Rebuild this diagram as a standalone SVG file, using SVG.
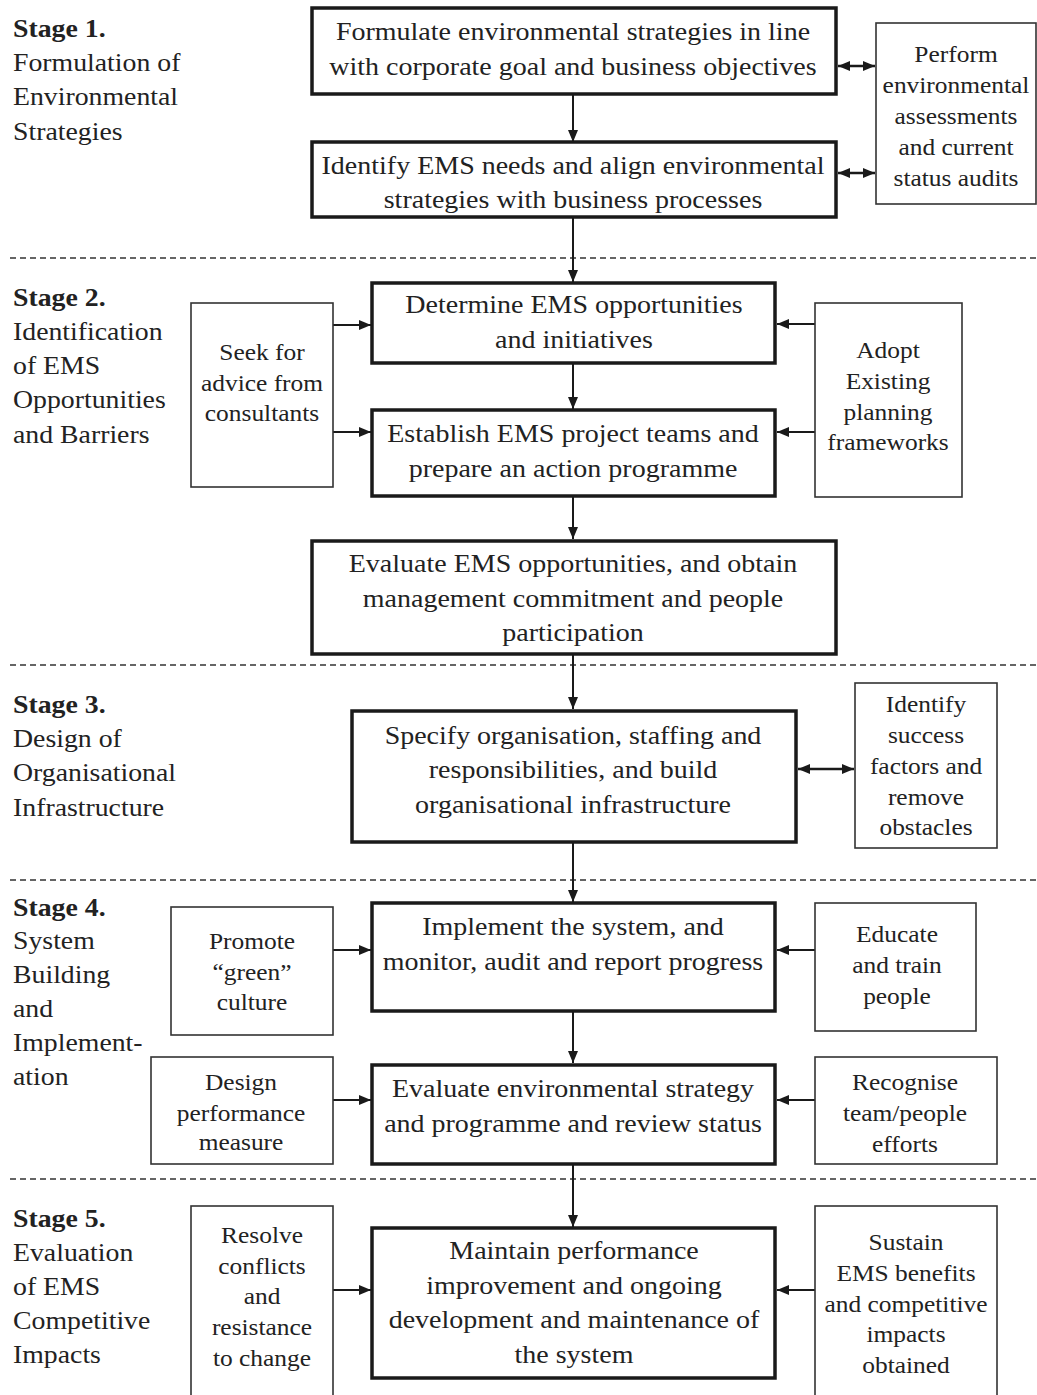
<svg xmlns="http://www.w3.org/2000/svg" width="1037" height="1395" viewBox="0 0 1037 1395">
  <style>
    text { font-family: "Liberation Serif", "Times New Roman", serif; fill: #222; }
    .m { font-size: 25px; text-anchor: middle; }
    .sd { font-size: 22.7px; text-anchor: middle; }
    .st { font-size: 24.8px; }
    .st .b { font-weight: bold; }
    .main { fill: #fff; stroke: #1a1a1a; stroke-width: 3.5; }
    .side { fill: #fff; stroke: #333; stroke-width: 1.6; }
    .sep { stroke: #333; stroke-width: 1.4; stroke-dasharray: 6 4; fill: none; }
    .arr { stroke: #1a1a1a; stroke-width: 2; fill: none; marker-end: url(#ah); }
    .dbl { stroke: #1a1a1a; stroke-width: 2.4; fill: none; marker-start: url(#ah); marker-end: url(#ah); }
  </style>
  <defs>
    <marker id="ah" viewBox="0 0 12 10" refX="12" refY="5" markerWidth="12" markerHeight="10" markerUnits="userSpaceOnUse" orient="auto-start-reverse">
      <path d="M0,0 L12,5 L0,10 z" fill="#1a1a1a"/>
    </marker>
  </defs>
  <rect width="1037" height="1395" fill="#fff"/>

  <!-- stage separators -->
  <g id="separators">
    <line class="sep" x1="10" y1="258" x2="1037" y2="258"/>
    <line class="sep" x1="10" y1="665" x2="1037" y2="665"/>
    <line class="sep" x1="10" y1="880" x2="1037" y2="880"/>
    <line class="sep" x1="10" y1="1179" x2="1037" y2="1179"/>
  </g>

  <!-- stage captions -->
  <g id="stage1"><text class="st" transform="matrix(1.12 0 0 1 13 0)"><tspan class="b" x="0" y="37">Stage 1.</tspan><tspan x="0" y="71">Formulation of</tspan><tspan x="0" y="105">Environmental</tspan><tspan x="0" y="140">Strategies</tspan></text></g>
  <g id="stage2"><text class="st" transform="matrix(1.12 0 0 1 13 0)"><tspan class="b" x="0" y="306">Stage 2.</tspan><tspan x="0" y="340">Identification</tspan><tspan x="0" y="374">of EMS</tspan><tspan x="0" y="408">Opportunities</tspan><tspan x="0" y="443">and Barriers</tspan></text></g>
  <g id="stage3"><text class="st" transform="matrix(1.12 0 0 1 13 0)"><tspan class="b" x="0" y="713">Stage 3.</tspan><tspan x="0" y="747">Design of</tspan><tspan x="0" y="781">Organisational</tspan><tspan x="0" y="816">Infrastructure</tspan></text></g>
  <g id="stage4"><text class="st" transform="matrix(1.12 0 0 1 13 0)"><tspan class="b" x="0" y="916">Stage 4.</tspan><tspan x="0" y="949">System</tspan><tspan x="0" y="983">Building</tspan><tspan x="0" y="1017">and</tspan><tspan x="0" y="1051">Implement-</tspan><tspan x="0" y="1085">ation</tspan></text></g>
  <g id="stage5"><text class="st" transform="matrix(1.12 0 0 1 13 0)"><tspan class="b" x="0" y="1227">Stage 5.</tspan><tspan x="0" y="1261">Evaluation</tspan><tspan x="0" y="1295">of EMS</tspan><tspan x="0" y="1329">Competitive</tspan><tspan x="0" y="1363">Impacts</tspan></text></g>

  <!-- connectors -->
  <g id="connectors">
    <line class="arr" x1="573" y1="94" x2="573" y2="142"/>
    <line class="arr" x1="573" y1="217" x2="573" y2="282"/>
    <line class="arr" x1="573" y1="363" x2="573" y2="409"/>
    <line class="arr" x1="573" y1="496" x2="573" y2="539"/>
    <line class="arr" x1="573" y1="654" x2="573" y2="709"/>
    <line class="arr" x1="573" y1="842" x2="573" y2="902"/>
    <line class="arr" x1="573" y1="1011" x2="573" y2="1063"/>
    <line class="arr" x1="573" y1="1164" x2="573" y2="1227"/>

    <line class="dbl" x1="838" y1="66" x2="875" y2="66"/>
    <line class="dbl" x1="838" y1="173" x2="875" y2="173"/>
    <line class="dbl" x1="798" y1="769" x2="854" y2="769"/>

    <line class="arr" x1="333" y1="325" x2="371" y2="325"/>
    <line class="arr" x1="333" y1="432" x2="371" y2="432"/>
    <line class="arr" x1="815" y1="324" x2="777" y2="324"/>
    <line class="arr" x1="815" y1="432" x2="777" y2="432"/>
    <line class="arr" x1="333" y1="950" x2="371" y2="950"/>
    <line class="arr" x1="815" y1="950" x2="777" y2="950"/>
    <line class="arr" x1="333" y1="1100" x2="371" y2="1100"/>
    <line class="arr" x1="815" y1="1100" x2="777" y2="1100"/>
    <line class="arr" x1="333" y1="1290" x2="371" y2="1290"/>
    <line class="arr" x1="815" y1="1290" x2="777" y2="1290"/>
  </g>

  <!-- main process steps -->
  <g id="formulate">
    <rect class="main" x="312" y="8" width="524" height="86"/>
    <text class="m" transform="matrix(1.12 0 0 1 573 0)"><tspan x="0" y="40">Formulate environmental strategies in line</tspan><tspan x="0" y="75">with corporate goal and business objectives</tspan></text>
  </g>
  <g id="identify-needs">
    <rect class="main" x="312" y="142" width="524" height="75"/>
    <text class="m" transform="matrix(1.12 0 0 1 573 0)"><tspan x="0" y="174">Identify EMS needs and align environmental</tspan><tspan x="0" y="208">strategies with business processes</tspan></text>
  </g>
  <g id="determine">
    <rect class="main" x="372" y="283" width="403" height="80"/>
    <text class="m" transform="matrix(1.12 0 0 1 574 0)"><tspan x="0" y="313">Determine EMS opportunities</tspan><tspan x="0" y="348">and initiatives</tspan></text>
  </g>
  <g id="establish">
    <rect class="main" x="372" y="410" width="403" height="86"/>
    <text class="m" transform="matrix(1.12 0 0 1 573 0)"><tspan x="0" y="442">Establish EMS project teams and</tspan><tspan x="0" y="477">prepare an action programme</tspan></text>
  </g>
  <g id="evaluate-opps">
    <rect class="main" x="312" y="541" width="524" height="113"/>
    <text class="m" transform="matrix(1.12 0 0 1 573 0)"><tspan x="0" y="572">Evaluate EMS opportunities, and obtain</tspan><tspan x="0" y="607">management commitment and people</tspan><tspan x="0" y="641">participation</tspan></text>
  </g>
  <g id="specify">
    <rect class="main" x="352" y="711" width="444" height="131"/>
    <text class="m" transform="matrix(1.12 0 0 1 573 0)"><tspan x="0" y="744">Specify organisation, staffing and</tspan><tspan x="0" y="778">responsibilities, and build</tspan><tspan x="0" y="813">organisational infrastructure</tspan></text>
  </g>
  <g id="implement">
    <rect class="main" x="372" y="903" width="403" height="108"/>
    <text class="m" transform="matrix(1.12 0 0 1 573 0)"><tspan x="0" y="935">Implement the system, and</tspan><tspan x="0" y="970">monitor, audit and report progress</tspan></text>
  </g>
  <g id="evaluate-strategy">
    <rect class="main" x="372" y="1065" width="403" height="99"/>
    <text class="m" transform="matrix(1.12 0 0 1 573 0)"><tspan x="0" y="1097">Evaluate environmental strategy</tspan><tspan x="0" y="1132">and programme and review status</tspan></text>
  </g>
  <g id="maintain">
    <rect class="main" x="372" y="1228" width="403" height="150"/>
    <text class="m" transform="matrix(1.12 0 0 1 574 0)"><tspan x="0" y="1259">Maintain performance</tspan><tspan x="0" y="1294">improvement and ongoing</tspan><tspan x="0" y="1328">development and maintenance of</tspan><tspan x="0" y="1363">the system</tspan></text>
  </g>

  <!-- supporting activities -->
  <g id="perform">
    <rect class="side" x="876" y="23" width="160" height="181"/>
    <text class="sd" transform="matrix(1.12 0 0 1 956 0)"><tspan x="0" y="62">Perform</tspan><tspan x="0" y="93">environmental</tspan><tspan x="0" y="124">assessments</tspan><tspan x="0" y="155">and current</tspan><tspan x="0" y="186">status audits</tspan></text>
  </g>
  <g id="seek">
    <rect class="side" x="191" y="303" width="142" height="184"/>
    <text class="sd" transform="matrix(1.12 0 0 1 262 0)"><tspan x="0" y="360">Seek for</tspan><tspan x="0" y="391">advice from</tspan><tspan x="0" y="421">consultants</tspan></text>
  </g>
  <g id="adopt">
    <rect class="side" x="815" y="303" width="147" height="194"/>
    <text class="sd" transform="matrix(1.12 0 0 1 888 0)"><tspan x="0" y="358">Adopt</tspan><tspan x="0" y="389">Existing</tspan><tspan x="0" y="420">planning</tspan><tspan x="0" y="450">frameworks</tspan></text>
  </g>
  <g id="success-factors">
    <rect class="side" x="855" y="683" width="142" height="165"/>
    <text class="sd" transform="matrix(1.12 0 0 1 926 0)"><tspan x="0" y="712">Identify</tspan><tspan x="0" y="743">success</tspan><tspan x="0" y="774">factors and</tspan><tspan x="0" y="805">remove</tspan><tspan x="0" y="835">obstacles</tspan></text>
  </g>
  <g id="promote">
    <rect class="side" x="171" y="907" width="162" height="128"/>
    <text class="sd" transform="matrix(1.12 0 0 1 252 0)"><tspan x="0" y="949">Promote</tspan><tspan x="0" y="980">“green”</tspan><tspan x="0" y="1010">culture</tspan></text>
  </g>
  <g id="educate">
    <rect class="side" x="815" y="903" width="161" height="128"/>
    <text class="sd" transform="matrix(1.12 0 0 1 897 0)"><tspan x="0" y="942">Educate</tspan><tspan x="0" y="973">and train</tspan><tspan x="0" y="1004">people</tspan></text>
  </g>
  <g id="design-measure">
    <rect class="side" x="151" y="1057" width="182" height="107"/>
    <text class="sd" transform="matrix(1.12 0 0 1 241 0)"><tspan x="0" y="1090">Design</tspan><tspan x="0" y="1121">performance</tspan><tspan x="0" y="1150">measure</tspan></text>
  </g>
  <g id="recognise">
    <rect class="side" x="815" y="1057" width="182" height="107"/>
    <text class="sd" transform="matrix(1.12 0 0 1 905 0)"><tspan x="0" y="1090">Recognise</tspan><tspan x="0" y="1121">team/people</tspan><tspan x="0" y="1152">efforts</tspan></text>
  </g>
  <g id="resolve">
    <rect class="side" x="191" y="1206" width="142" height="200"/>
    <text class="sd" transform="matrix(1.12 0 0 1 262 0)"><tspan x="0" y="1243">Resolve</tspan><tspan x="0" y="1274">conflicts</tspan><tspan x="0" y="1304">and</tspan><tspan x="0" y="1335">resistance</tspan><tspan x="0" y="1366">to change</tspan></text>
  </g>
  <g id="sustain">
    <rect class="side" x="815" y="1206" width="182" height="200"/>
    <text class="sd" transform="matrix(1.12 0 0 1 906 0)"><tspan x="0" y="1250">Sustain</tspan><tspan x="0" y="1281">EMS benefits</tspan><tspan x="0" y="1312">and competitive</tspan><tspan x="0" y="1342">impacts</tspan><tspan x="0" y="1373">obtained</tspan></text>
  </g>
</svg>
